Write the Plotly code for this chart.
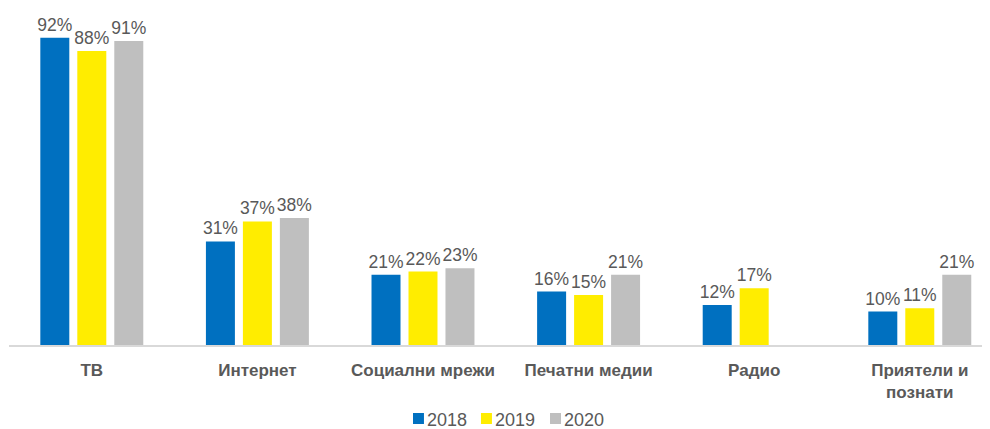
import plotly.graph_objects as go

categories = ["ТВ", "Интернет", "Социални мрежи", "Печатни медии", "Радио", "Приятели и<br>познати"]
years = ["2018", "2019", "2020"]
v2018 = [92, 31, 21, 16, 12, 10]
v2019 = [88, 37, 22, 15, 17, 11]
v2020 = [91, 38, 23, 21, None, 21]
colors = ["#0070C0", "#FFED00", "#BFBFBF"]

FONT = "Liberation Sans, Arial, sans-serif"

fig = go.Figure()
for name, vals, col in zip(years, [v2018, v2019, v2020], colors):
    fig.add_trace(go.Bar(
        x=categories, y=vals, name=name, marker=dict(color=col, line=dict(width=0)),
        text=[f"{v}%" if v is not None else "" for v in vals],
        textposition="outside", cliponaxis=False, constraintext="none",
        textfont=dict(family=FONT, size=17.5, color="#595959"),
        showlegend=False,
    ))

# legend: coloured squares + labels below the plot (paper coordinates)
legend_sq_x = [0.4118, 0.4811, 0.5515]
legend_txt_x = [0.4261, 0.4954, 0.5657]
for name, col, sx, tx in zip(years, colors, legend_sq_x, legend_txt_x):
    fig.add_shape(type="rect", xref="paper", yref="paper",
                  x0=sx, x1=sx + 0.0112, y0=-0.2365, y1=-0.2036,
                  fillcolor=col, line=dict(width=0))
    fig.add_annotation(
        x=tx, y=-0.2231, xref="paper", yref="paper", xanchor="left", yanchor="middle",
        text=name, showarrow=False, xshift=-2,
        font=dict(family=FONT, size=18, color="#595959"),
    )

fig.update_layout(
    width=982, height=421,
    margin=dict(l=1, r=0, t=3, b=84, autoexpand=False),
    barmode="group", bargap=0.33, bargroupgap=0.216,
    plot_bgcolor="white", paper_bgcolor="white",
    font=dict(family=FONT, color="#595959"),
    xaxis=dict(range=[-0.5, 5.424], showline=True, linecolor="#D9D9D9", linewidth=1.5,
               showgrid=False, ticks="", ticklabelstandoff=9, automargin=False,
               tickfont=dict(size=17, color="#595959", family=FONT, weight="bold")),
    yaxis=dict(range=[0, 100], visible=False, automargin=False),
    showlegend=False,
)
fig.write_html("out.html")
